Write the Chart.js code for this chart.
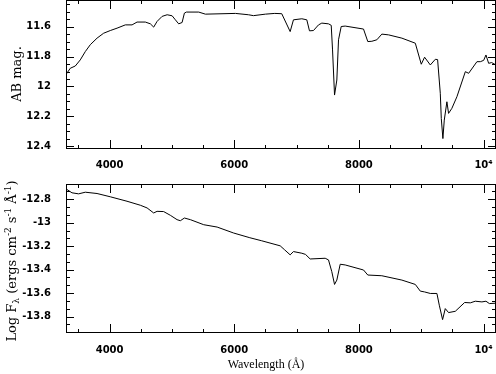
<!DOCTYPE html>
<html lang="en">
<head>
<meta charset="UTF-8">
<title>Spectrum: AB mag and Log F</title>
<script src="https://cdn.jsdelivr.net/npm/chart.js"></script>
<style>
  html, body { margin: 0; padding: 0; background: #fff; }
  #wrap { position: relative; width: 496px; height: 374px; overflow: hidden; }
  canvas { position: absolute; left: 0; }
  #topChart { top: 0; }
  #botChart { top: 170px; }
</style>
</head>
<body>
<div id="wrap">
  <canvas id="topChart" width="496" height="180"></canvas>
  <canvas id="botChart" width="496" height="204"></canvas>
</div>
<script>
// wavelength (A) and AB magnitude, upper panel
const lamTop = [3305, 3369, 3449, 3529, 3610, 3690, 3798, 3904, 4011, 4119, 4252, 4360, 4440, 4573, 4654, 4707, 4761, 4842, 4923, 5003,
  5055, 5108, 5163, 5200, 5232, 5429, 5537, 6019, 6228, 6308, 6500, 6650, 6762, 6897, 6950, 7084, 7164, 7207, 7271, 7352,
  7405, 7512, 7556, 7577, 7609, 7646, 7673, 7716, 7780, 8074, 8143, 8208, 8288, 8368, 8476, 8690, 8905, 9001, 9054, 9146,
  9226, 9263, 9306, 9322, 9348, 9370, 9412, 9439, 9492, 9573, 9708, 9761, 9894, 9949, 10002, 10039, 10082, 10130, 10199];
const magTop = [11.917, 11.878, 11.863, 11.822, 11.766, 11.72, 11.676, 11.643, 11.625, 11.609, 11.587, 11.587, 11.568, 11.568, 11.58, 11.602, 11.564, 11.53, 11.519, 11.526,
  11.553, 11.58, 11.571, 11.508, 11.501, 11.501, 11.515, 11.51, 11.519, 11.525, 11.515, 11.51, 11.512, 11.632, 11.553, 11.546, 11.553, 11.627, 11.625, 11.587,
  11.575, 11.58, 11.59, 11.755, 12.058, 11.957, 11.687, 11.598, 11.595, 11.615, 11.699, 11.697, 11.687, 11.649, 11.654, 11.676, 11.71, 11.851, 11.804, 11.856,
  11.818, 11.82, 12.046, 12.215, 12.35, 12.226, 12.103, 12.181, 12.147, 12.069, 11.901, 11.912, 11.834, 11.834, 11.825, 11.789, 11.845, 11.84, 11.856];

// wavelength (A) and log flux, lower panel
const lamBot = [3316, 3396, 3502, 3610, 3798, 4011, 4279, 4493, 4601, 4707, 4761, 4867, 4975, 5082, 5135, 5200, 5296, 5510, 5725, 5991,
  6250, 6441, 6737, 6806, 6897, 6950, 7084, 7143, 7218, 7459, 7512, 7565, 7609, 7646, 7700, 7780, 8074, 8143, 8368, 8690,
  8905, 8985, 9054, 9146, 9252, 9290, 9343, 9386, 9439, 9547, 9697, 9788, 9868, 9974, 10039, 10093, 10199];
const logFlux = [-12.717, -12.745, -12.754, -12.74, -12.751, -12.779, -12.817, -12.851, -12.874, -12.917, -12.903, -12.905, -12.937, -12.974, -12.983, -12.96, -12.974, -13.017, -13.037, -13.088,
  -13.128, -13.154, -13.197, -13.23, -13.274, -13.246, -13.26, -13.27, -13.309, -13.303, -13.317, -13.417, -13.526, -13.489, -13.354, -13.36, -13.403, -13.446, -13.452, -13.489,
  -13.526, -13.583, -13.59, -13.603, -13.603, -13.703, -13.826, -13.732, -13.766, -13.755, -13.68, -13.683, -13.669, -13.675, -13.669, -13.689, -13.686];

// axis ticks
const xMajor = [4000, 6000, 8000, 10000];
const xMajorText = ['4000', '6000', '8000', '10\u2074'];
const xMinorStep = 500;
const magMajor = [11.6, 11.8, 12, 12.2, 12.4];
const magMinorStep = 0.05;
const fluxMajor = [-12.8, -13, -13.2, -13.4, -13.6, -13.8];
const fluxMinorStep = 0.2 / 3;

const X_MIN = 3300, X_MAX = 10200;

function makeTicks(lo, hi, step, anchor) {
  const out = [];
  const k0 = Math.ceil((lo - anchor) / step - 1e-9);
  const k1 = Math.floor((hi - anchor) / step + 1e-9);
  for (let k = k0; k <= k1; k++) out.push(anchor + k * step);
  return out;
}
function labelFor(v, majors, texts) {
  for (let i = 0; i < majors.length; i++) {
    if (Math.abs(v - majors[i]) < 1e-6) return texts ? texts[i] : String(majors[i]);
  }
  return '';
}
// scales must not push the plot area in
function noPad(s) {
  s.paddingTop = 0; s.paddingBottom = 0; s.paddingLeft = 0; s.paddingRight = 0;
}

const tickFont = { family: 'DejaVu Sans', size: 10, weight: 'bold' };

// frame, inward tick marks and axis titles
const framePlugin = {
  id: 'frame',
  afterDatasetsDraw(chart, args, opts) {
    const { ctx, chartArea: a, scales } = chart;
    ctx.save();
    ctx.strokeStyle = '#000';
    ctx.lineWidth = 1;
    ctx.strokeRect(a.left + 0.5, a.top + 0.5, a.right - a.left - 1, a.bottom - a.top - 1);
    ctx.beginPath();
    scales.x.ticks.forEach(t => {
      const px = Math.round(scales.x.getPixelForValue(t.value)) + 0.5;
      const len = t.label ? 9 : 4;
      ctx.moveTo(px, a.bottom); ctx.lineTo(px, a.bottom - len);
      ctx.moveTo(px, a.top); ctx.lineTo(px, a.top + len);
    });
    scales.y.ticks.forEach(t => {
      const py = Math.round(scales.y.getPixelForValue(t.value)) + 0.5;
      const len = t.label ? 8 : 4;
      ctx.moveTo(a.left, py); ctx.lineTo(a.left + len, py);
      ctx.moveTo(a.right, py); ctx.lineTo(a.right - len, py);
    });
    ctx.stroke();

    ctx.fillStyle = '#000';
    // y title, rotated, made of plain / sub / sup pieces
    if (opts.yTitle) {
      const base = 13;
      const fam = 'DejaVu Serif';
      const pieces = opts.yTitle.map(p => {
        const size = p.sup || p.sub ? Math.round(base * 0.7) : base;
        ctx.font = size + 'px "' + fam + '"';
        return { ...p, size, w: ctx.measureText(p.t).width };
      });
      const total = pieces.reduce((s, p) => s + p.w, 0);
      ctx.translate(opts.yTitleX, opts.yTitleY);
      ctx.rotate(-Math.PI / 2);
      ctx.textBaseline = 'alphabetic';
      ctx.textAlign = 'left';
      let x = -total / 2;
      pieces.forEach(p => {
        ctx.font = p.size + 'px "' + fam + '"';
        const dy = p.sup ? -5 : (p.sub ? 3 : 0);
        ctx.fillText(p.t, x, 4 + dy);
        x += p.w;
      });
      ctx.setTransform(1, 0, 0, 1, 0, 0);
    }
    if (opts.xTitle) {
      ctx.font = '12px "Liberation Serif"';
      ctx.textAlign = 'center';
      ctx.textBaseline = 'middle';
      ctx.fillText(opts.xTitle, opts.xTitleX, opts.xTitleY);
    }
    ctx.restore();
  }
};

function panel(canvasId, lam, vals, yMin, yMax, reverse, majors, step, padTop, xAxisH, xLabelPad, frameOpts) {
  const yTicks = makeTicks(yMin, yMax, step, majors[0]);
  const xTicks = makeTicks(X_MIN, X_MAX, xMinorStep, 4000);
  return new Chart(document.getElementById(canvasId), {
    type: 'line',
    data: {
      datasets: [{
        data: lam.map((l, i) => ({ x: l, y: vals[i] })),
        borderColor: '#000',
        borderWidth: 1,
        pointRadius: 0,
        tension: 0,
        fill: false
      }]
    },
    options: {
      responsive: false,
      animation: false,
      devicePixelRatio: 1,
      layout: { padding: { top: padTop, right: 0, bottom: 0, left: 0 }, autoPadding: false },
      plugins: { legend: { display: false }, tooltip: { enabled: false }, frame: frameOpts },
      scales: {
        x: {
          type: 'linear', min: X_MIN, max: X_MAX,
          grid: { display: false, drawTicks: false },
          border: { display: false },
          afterBuildTicks: s => { s.ticks = xTicks.map(v => ({ value: v })); },
          afterFit: s => { s.height = xAxisH; noPad(s); },
          ticks: {
            autoSkip: false, maxRotation: 0, padding: xLabelPad, color: '#000', font: tickFont,
            callback: v => labelFor(v, xMajor, xMajorText)
          }
        },
        y: {
          type: 'linear', min: yMin, max: yMax, reverse: reverse,
          grid: { display: false, drawTicks: false },
          border: { display: false },
          afterBuildTicks: s => { s.ticks = yTicks.map(v => ({ value: v })); },
          afterFit: s => { s.width = 66; noPad(s); },
          ticks: {
            autoSkip: false, padding: 15, color: '#000', font: tickFont,
            callback: v => labelFor(v, majors)
          }
        }
      }
    },
    plugins: [framePlugin]
  });
}

panel('topChart', lamTop, magTop, 11.42, 12.42, true, magMajor, magMinorStep, 0, 31, 10, {
  yTitle: [{ t: 'AB mag.' }], yTitleX: 17, yTitleY: 74
});

panel('botChart', lamBot, logFlux, -13.94, -12.67, false, fluxMajor, fluxMinorStep, 14, 41, 11, {
  yTitle: [
    { t: 'Log F' }, { t: '\u03bb', sub: true }, { t: ' (ergs cm' }, { t: '-2', sup: true },
    { t: ' s' }, { t: '-1', sup: true }, { t: ' \u00c5' }, { t: '-1', sup: true }, { t: ')' }
  ],
  yTitleX: 12, yTitleY: 91,
  xTitle: 'Wavelength (\u00c5)', xTitleX: 266, xTitleY: 195
});
</script>
</body>
</html>
